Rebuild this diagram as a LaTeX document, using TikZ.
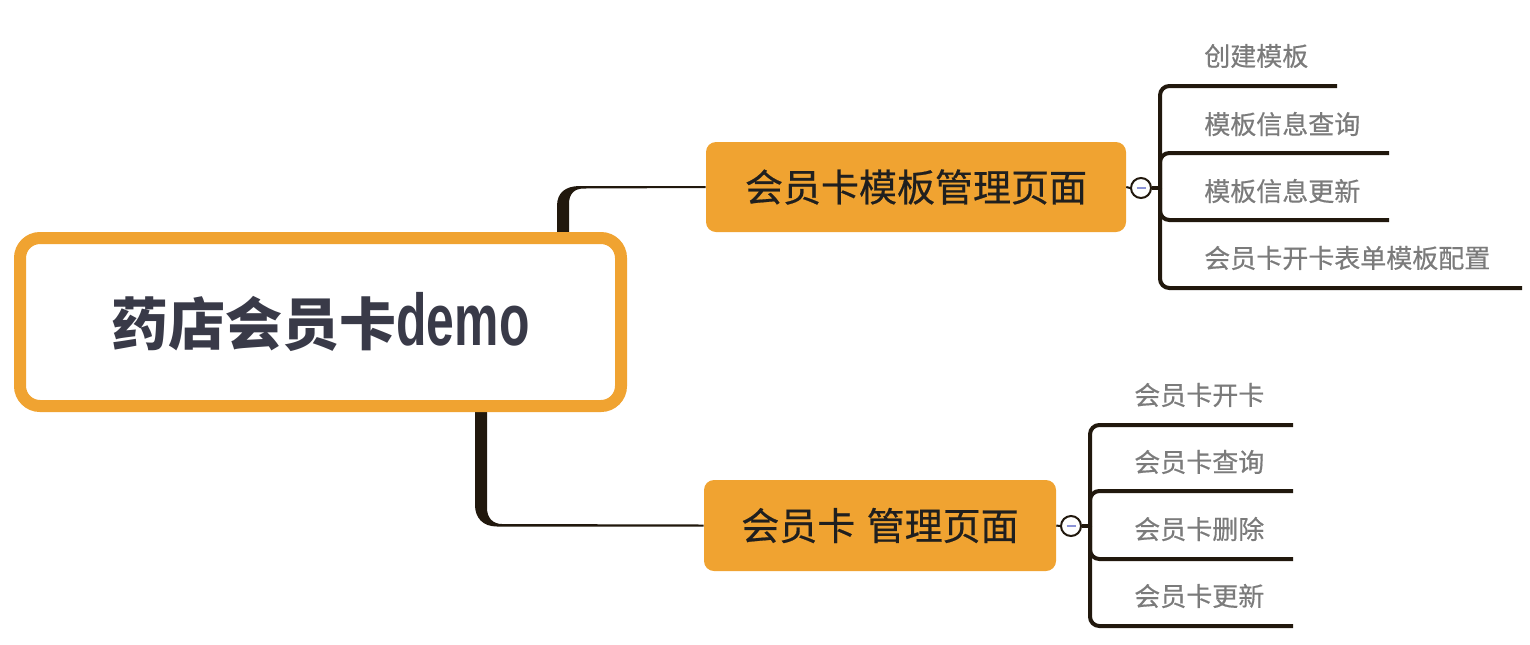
\documentclass[tikz,border=0pt]{standalone}
\usepackage{fontspec}
\newfontfamily\cjk{Noto Sans CJK SC}
\newfontfamily\cjkm[FakeBold=0.5]{Noto Sans CJK SC}
\newfontfamily\lat{Liberation Sans}
\usetikzlibrary{calc}
\definecolor{orng}{HTML}{F0A331}
\definecolor{linec}{HTML}{21180D}
\definecolor{roottxt}{HTML}{393A48}
\definecolor{subtxt}{HTML}{7B7B7B}
\definecolor{minusc}{HTML}{8C93D6}
\tikzset{
  rootbox/.style={draw=orng, line width=9pt, fill=white, rounded corners=15pt,
    minimum width=601*0.75pt, minimum height=168*0.75pt, inner sep=0pt,
    text=roottxt, font=\cjk\bfseries\fontsize{42.75pt}{50pt}\selectfont},
  branchbox/.style={fill=orng, rounded corners=7.5pt, inner sep=0pt,
    text=black!88, font=\cjkm\fontsize{28.5pt}{34pt}\selectfont},
  subtext/.style={anchor=west, inner sep=0pt, text=subtxt,
    font=\cjkm\fontsize{19.5pt}{24pt}\selectfont},
  conn/.style={fill=linec},
  thinline/.style={draw=linec, line width=1.5pt},
  bracket/.style={draw=linec, line width=3pt, rounded corners=7pt},
  togglec/.style={circle, draw=linec, line width=1.5pt, fill=white,
    minimum size=20*0.75pt, inner sep=0pt},
  minus/.style={draw=minusc, line width=1.5pt},
}
\begin{document}
\begin{tikzpicture}[x=0.75pt, y=-0.75pt]
\useasboundingbox (0,0) rectangle (1530,644);

% branch boxes
\node[branchbox, minimum width=420*0.75pt, minimum height=90*0.75pt] (b1) at (916,187) {会员卡模板管理页面};
\node[branchbox, minimum width=352*0.75pt, minimum height=91*0.75pt] (b2) at (880,525.5) {会员卡\hspace{0.3em}管理页面};

% tapered connectors root -> branches
\fill[conn] (557,300) -- (557,206) .. controls (557,193) and (565,186) .. (580,186)
  -- ($(b1.west)+(0,-1)$) -- ($(b1.west)+(0,1)$) -- (584,188.5)
  .. controls (574,188.5) and (569,194) .. (569,204) -- (569,300) -- cycle;
\fill[conn] (475,350) -- (475,505) .. controls (475,518) and (483,526.5) .. (497,526.5)
  -- ($(b2.west)+(0,1)$) -- ($(b2.west)+(0,-1)$) -- (502,524)
  .. controls (493,524) and (487,518) .. (487,508) -- (487,350) -- cycle;

% root
\node[rootbox] (root) at (320.5,322) {药店会员卡{\lat\bfseries\scalebox{0.68}[1]{\fontsize{55pt}{60pt}\selectfont demo}}};

% toggles
\node[togglec] (c1) at (1141,188) {};
\node[togglec] (c2) at (1071,526) {};
\draw[thinline] (b1.east) -- (c1.west);
\draw[thinline] (b2.east) -- (c2.west);
\draw[minus] ($(c1.center)+(-4.5,0)$) -- ($(c1.center)+(4.5,0)$);
\draw[minus] ($(c2.center)+(-4.5,0)$) -- ($(c2.center)+(4.5,0)$);

% branch 1 children
\coordinate (j1) at (1160,188);
\draw[draw=linec, line width=3pt] (c1.east) -- (j1);
\node[subtext] (t11) at (1204,56) {创建模板};
\node[subtext] (t12) at (1204,124) {模板信息查询};
\node[subtext] (t13) at (1204,191) {模板信息更新};
\node[subtext] (t14) at (1204,258) {会员卡开卡表单模板配置};
\coordinate (u11) at (1337,86);
\coordinate (u12) at (1389,153);
\coordinate (u13) at (1389,220);
\coordinate (u14) at (1522,288);
\draw[bracket] (j1) |- (u11);
\draw[bracket] (j1) |- (u12);
\draw[bracket] (j1) |- (u13);
\draw[bracket] (j1) |- (u14);

% branch 2 children
\coordinate (j2) at (1090,526);
\draw[draw=linec, line width=3pt] (c2.east) -- (j2);
\node[subtext] (t21) at (1134,395) {会员卡开卡};
\node[subtext] (t22) at (1134,462) {会员卡查询};
\node[subtext] (t23) at (1134,529) {会员卡删除};
\node[subtext] (t24) at (1134,596) {会员卡更新};
\coordinate (u21) at (1293,425);
\coordinate (u22) at (1293,491);
\coordinate (u23) at (1293,559);
\coordinate (u24) at (1293,626);
\draw[bracket] (j2) |- (u21);
\draw[bracket] (j2) |- (u22);
\draw[bracket] (j2) |- (u23);
\draw[bracket] (j2) |- (u24);
\end{tikzpicture}
\end{document}
